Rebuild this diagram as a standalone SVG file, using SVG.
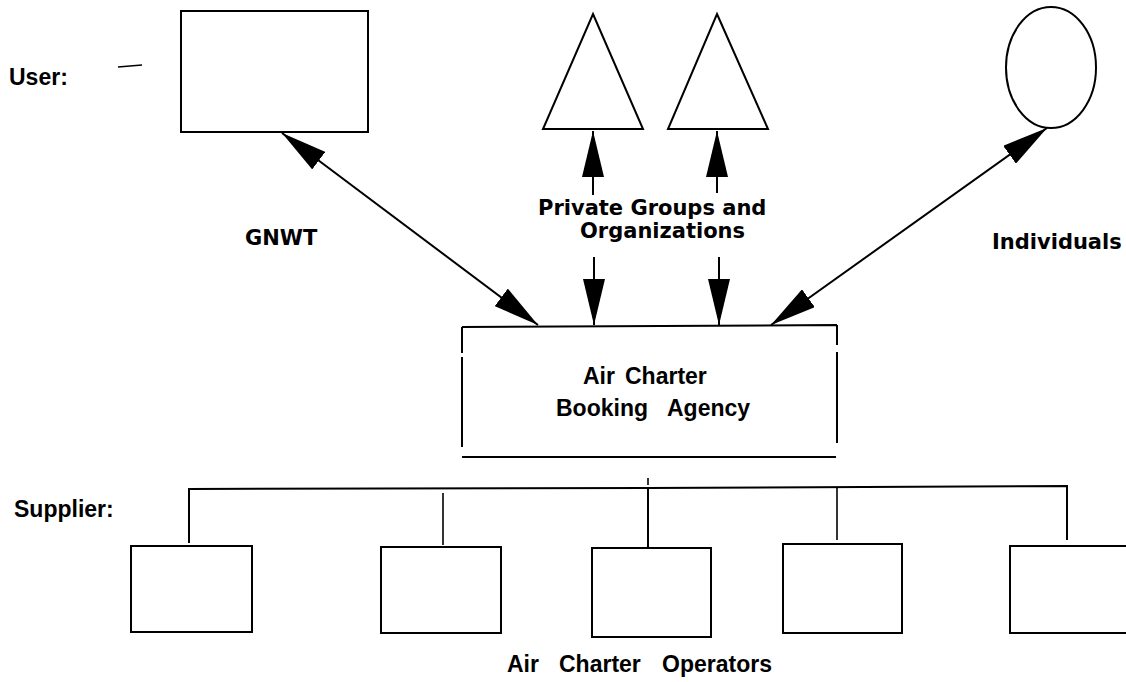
<svg xmlns="http://www.w3.org/2000/svg" width="1126" height="682" viewBox="0 0 1126 682">
  <style>
    .shape { fill: #fff; stroke: #000; stroke-width: 2; }
    .ln { fill: none; stroke: #000; stroke-width: 2; }
    .thin { fill: none; stroke: #000; stroke-width: 1.6; }
    .hel { font-family: "Liberation Sans", Arial, sans-serif; font-weight: bold; font-size: 23px; fill: #000; }
    .gen { font-family: "DejaVu Sans", "Liberation Sans", sans-serif; font-weight: bold; font-size: 21px; fill: #000; }
  </style>
  <defs>
    <marker id="head" markerUnits="userSpaceOnUse" markerWidth="46" markerHeight="22" refX="46" refY="11" orient="auto-start-reverse">
      <path d="M0,0 L46,11 L0,22 Z" fill="#000"/>
    </marker>
  </defs>
  <rect width="1126" height="682" fill="#fff"/>

  <g id="labels">
    <text class="hel" x="9" y="85">User:</text>
    <text class="hel" x="14" y="517">Supplier:</text>
    <path class="thin" d="M118,67 L142,65"/>
  </g>

  <g id="gnwt">
    <rect class="shape" x="181" y="11" width="187" height="121"/>
    <text class="gen" x="245" y="245">GNWT</text>
  </g>

  <g id="private-groups">
    <polygon class="shape" points="593,14 643,129 543,129"/>
    <polygon class="shape" points="717,14 768,129 668,129"/>
    <text class="gen" x="538" y="215">Private Groups and</text>
    <text class="gen" x="580" y="238">Organizations</text>
  </g>

  <g id="individuals">
    <ellipse class="shape" cx="1051" cy="67.5" rx="45" ry="60.5"/>
    <text class="gen" x="992" y="249">Individuals</text>
  </g>

  <g id="agency">
    <path class="ln" d="M462,327 L837,325 M462,327 V353 M462,357 V447 M837,325 V345 M837,352 V443 M462,457 H836"/>
    <text class="hel" y="384"><tspan x="583">Air</tspan><tspan x="625">Charter</tspan></text>
    <text class="hel" y="416"><tspan x="556">Booking</tspan><tspan x="667">Agency</tspan></text>
  </g>

  <g id="operators">
    <rect class="shape" x="131" y="546" width="121" height="86"/>
    <rect class="shape" x="381" y="547" width="120" height="86"/>
    <rect class="shape" x="592" y="548" width="119" height="89"/>
    <rect class="shape" x="783" y="544" width="119" height="89"/>
    <rect class="shape" x="1010" y="546" width="130" height="87"/>
    <text class="hel" y="672"><tspan x="507">Air</tspan><tspan x="559">Charter</tspan><tspan x="662">Operators</tspan></text>
  </g>

  <g id="connectors">
    <line class="ln" x1="282" y1="133" x2="538" y2="325" marker-start="url(#head)" marker-end="url(#head)"/>
    <line class="ln" x1="771" y1="325" x2="1047" y2="128" marker-start="url(#head)" marker-end="url(#head)"/>
    <line class="ln" x1="593" y1="195" x2="593" y2="131" marker-end="url(#head)"/>
    <line class="ln" x1="717" y1="193" x2="717" y2="131" marker-end="url(#head)"/>
    <line class="ln" x1="594" y1="257" x2="594" y2="325" marker-end="url(#head)"/>
    <line class="ln" x1="719" y1="257" x2="719" y2="325" marker-end="url(#head)"/>
    <path class="ln" d="M189,543 V489 L648,488 L1067,486 V540"/>
    <line class="thin" x1="443" y1="493" x2="443" y2="545"/>
    <line class="ln" x1="648" y1="488" x2="648" y2="548"/>
    <line class="thin" x1="648" y1="478" x2="648" y2="485"/>
    <line class="thin" x1="837" y1="487" x2="837" y2="540"/>
  </g>
</svg>
